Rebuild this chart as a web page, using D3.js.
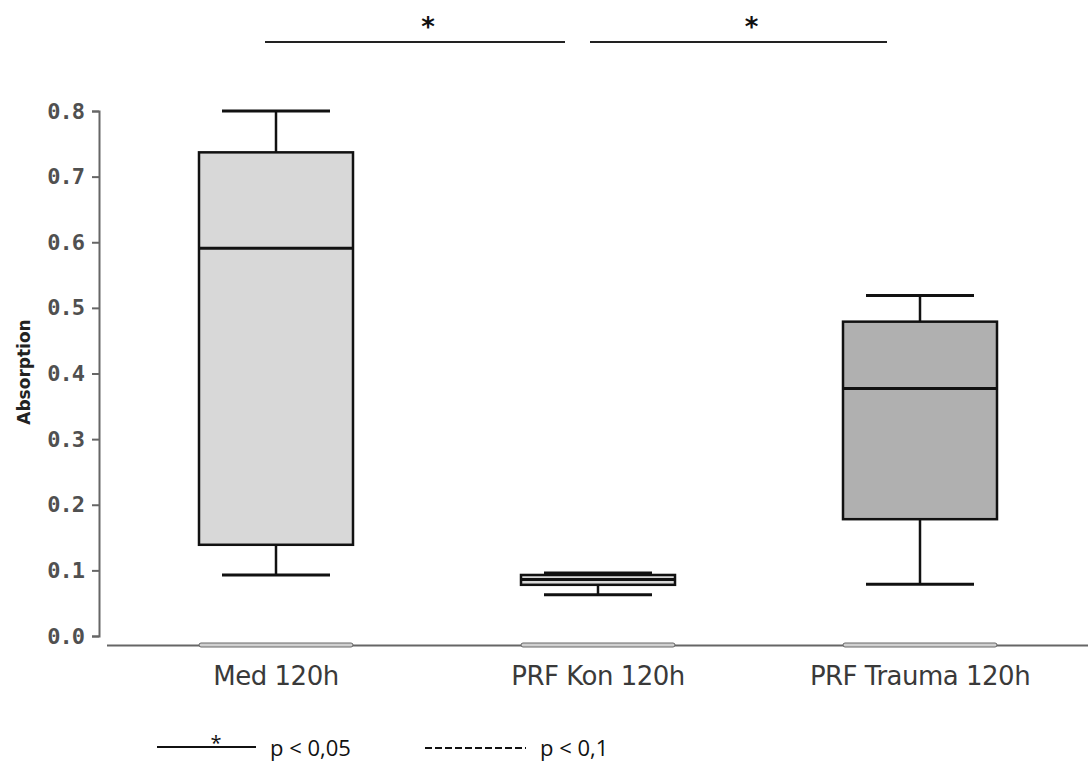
<!DOCTYPE html>
<html>
  <head>
    <title></title>
    <style>
      body, html{
        margin: 0;
        width: 100%;
        height: 100%;
        background: #fff;
      }
      .tick text{
        font-family: "DejaVu Sans Mono", monospace;
        font-weight: bold;
        font-size: 22px;
        letter-spacing: -1px;
        fill: #505050;
      }
      .cat{
        font-family: "DejaVu Sans", sans-serif;
        font-size: 26px;
        letter-spacing: -0.5px;
        fill: #3a3a3a;
      }
      .legend{
        font-family: "Open Sans", sans-serif;
        font-size: 22px;
        fill: #111;
      }
    </style>
  </head>
  <body>
    <svg id="chart" width="1088" height="763"></svg>
    <script src="https://cdnjs.cloudflare.com/ajax/libs/d3/7.8.5/d3.min.js" charset="utf-8"></script>
    <script>
      var categories = ['Med 120h', 'PRF Kon 120h', 'PRF Trauma 120h']
      var whiskerLow = [0.093, 0.063, 0.079]
      var q1 = [0.139, 0.078, 0.178]
      var median = [0.591, 0.086, 0.377]
      var q3 = [0.737, 0.093, 0.479]
      var whiskerHigh = [0.800, 0.096, 0.519]
      var fills = ['#d8d8d8', '#d8d8d8', '#b0b0b0']
      var yTicks = [0, 0.1, 0.2, 0.3, 0.4, 0.5, 0.6, 0.7, 0.8]
      // significance bars: [from, to]
      var sigPairs = [[0, 1], [1, 2]]

      var svg = d3.select('#chart')
      var y = d3.scaleLinear().domain([0, 0.8]).range([636, 111])
      var x = d3.scalePoint().domain(categories).range([276, 920])
      var boxW = 154, capW = 108

      // y axis
      var yAxis = d3.axisLeft(y).tickValues(yTicks).tickFormat(d3.format('.1f'))
        .tickSizeInner(7).tickSizeOuter(7).tickPadding(8)
      var ya = svg.append('g').attr('transform', 'translate(99,0)').call(yAxis)
      ya.select('.domain').attr('stroke', '#666').attr('stroke-width', 2)
      ya.selectAll('.tick line').attr('stroke', '#666').attr('stroke-width', 2)

      svg.append('text')
        .attr('transform', 'translate(30,372) rotate(-90)')
        .attr('text-anchor', 'middle')
        .style('font-family', 'DejaVu Sans, sans-serif')
        .style('font-weight', 'bold')
        .style('font-size', '17px')
        .style('fill', '#222')
        .text('Absorption')

      // x axis baseline
      svg.append('line').attr('x1', 107).attr('x2', 1088).attr('y1', 645.5).attr('y2', 645.5)
        .attr('stroke', '#666').attr('stroke-width', 2)

      var data = categories.map(function(c, i){
        return {c: c, lo: whiskerLow[i], q1: q1[i], med: median[i], q3: q3[i], hi: whiskerHigh[i], fill: fills[i]}
      })

      var g = svg.selectAll('g.box').data(data).enter().append('g').attr('class', 'box')
        .attr('transform', function(d){ return 'translate(' + x(d.c) + ',0)' })

      // flat bars at zero
      g.append('rect')
        .attr('x', -boxW / 2).attr('width', boxW)
        .attr('y', 643).attr('height', 4).attr('rx', 2)
        .attr('fill', '#d0d0d0').attr('stroke', '#666').attr('stroke-width', 1)

      // whiskers
      g.append('line').attr('x1', 0).attr('x2', 0)
        .attr('y1', function(d){ return y(d.hi) }).attr('y2', function(d){ return y(d.q3) })
        .attr('stroke', '#111').attr('stroke-width', 2.5)
      g.append('line').attr('x1', 0).attr('x2', 0)
        .attr('y1', function(d){ return y(d.q1) }).attr('y2', function(d){ return y(d.lo) })
        .attr('stroke', '#111').attr('stroke-width', 2.5)
      g.selectAll('line.cap').data(function(d){ return [d.hi, d.lo] }).enter().append('line')
        .attr('class', 'cap')
        .attr('x1', -capW / 2).attr('x2', capW / 2)
        .attr('y1', function(v){ return y(v) }).attr('y2', function(v){ return y(v) })
        .attr('stroke', '#111').attr('stroke-width', 3)

      // box
      g.append('rect')
        .attr('x', -boxW / 2).attr('width', boxW)
        .attr('y', function(d){ return y(d.q3) })
        .attr('height', function(d){ return y(d.q1) - y(d.q3) })
        .attr('fill', function(d){ return d.fill })
        .attr('stroke', '#111').attr('stroke-width', 2.5)
      g.append('line')
        .attr('x1', -boxW / 2).attr('x2', boxW / 2)
        .attr('y1', function(d){ return y(d.med) }).attr('y2', function(d){ return y(d.med) })
        .attr('stroke', '#111').attr('stroke-width', 3)

      // category labels
      g.append('text').attr('class', 'cat')
        .attr('y', 685).attr('text-anchor', 'middle')
        .text(function(d){ return d.c })

      // significance bars
      sigPairs.forEach(function(p){
        var x1 = x(categories[p[0]]) - (p[0] === 0 ? 11 : 8)
        var x2 = x(categories[p[1]]) - 33
        svg.append('line').attr('x1', x1).attr('x2', x2).attr('y1', 42).attr('y2', 42)
          .attr('stroke', '#222').attr('stroke-width', 2)
        svg.append('text').attr('x', (x1 + x2) / 2 + 13).attr('y', 36)
          .attr('text-anchor', 'middle')
          .style('font-family', 'DejaVu Sans, sans-serif').style('font-weight', 'bold')
          .style('font-size', '26px').style('fill', '#111')
          .text('*')
      })

      // legend
      svg.append('line').attr('x1', 157).attr('x2', 256).attr('y1', 747).attr('y2', 747)
        .attr('stroke', '#111').attr('stroke-width', 2)
      svg.append('text').attr('x', 216).attr('y', 750).attr('text-anchor', 'middle')
        .attr('class', 'legend').style('font-size', '20px').text('*')
      svg.append('text').attr('class', 'legend').attr('x', 270).attr('y', 756).text('p < 0,05')
      svg.append('line').attr('x1', 425).attr('x2', 526).attr('y1', 748).attr('y2', 748)
        .attr('stroke', '#111').attr('stroke-width', 2).attr('stroke-dasharray', '7,3')
      svg.append('text').attr('class', 'legend').attr('x', 540).attr('y', 756).text('p < 0,1')
    </script>
  </body>
</html>
